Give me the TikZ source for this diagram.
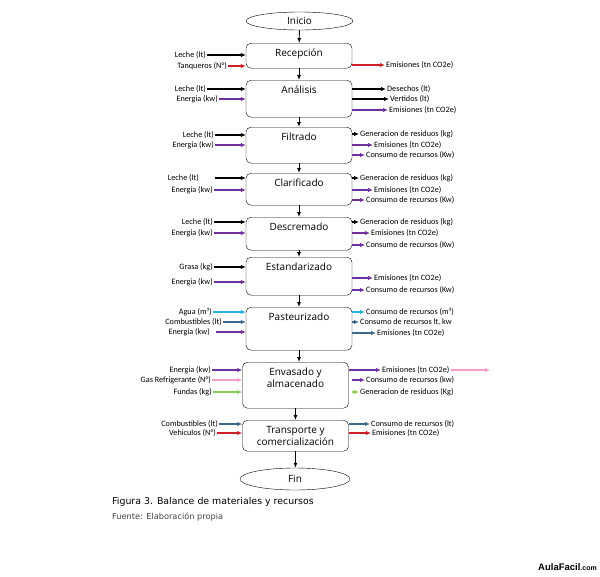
\documentclass[tikz,border=0pt]{standalone}
\usepackage{fontspec}
\usepackage{xcolor}
\usepackage{tikz}
\usetikzlibrary{positioning,shapes.geometric,arrows.meta}

\newfontfamily\labfont{Carlito}
\newfontfamily\capfont{DejaVu Sans}
\newfontfamily\boxfont{Open Sans}
\newfontfamily\markfont{Liberation Sans}

\definecolor{rojo}{RGB}{205,32,38}
\definecolor{morado}{RGB}{112,48,160}
\definecolor{celeste}{RGB}{38,178,222}
\definecolor{pizarra}{RGB}{62,104,138}
\definecolor{rosa}{RGB}{242,156,198}
\definecolor{verde}{RGB}{142,204,92}

\begin{document}
\begin{tikzpicture}[
  x=1pt, y=-1pt,
  proc/.style={draw, rounded corners=5pt, minimum width=106pt, inner sep=0pt,
               anchor=north, align=center, text height=13pt,
               font=\boxfont\fontsize{10}{12}\selectfont},
  term/.style={draw, ellipse, minimum width=107pt, minimum height=18pt, inner sep=0pt,
               font=\boxfont\fontsize{10}{12}\selectfont},
  inl/.style={anchor=east, inner sep=1pt, font=\labfont\fontsize{8.2}{9}\selectfont},
  outl/.style={anchor=west, inner sep=1pt, font=\labfont\fontsize{8.2}{9}\selectfont},
  flow/.style={-{Latex[length=5pt,width=4pt]}, line width=0.9pt},
  io/.style={-{Latex[length=5pt,width=4.5pt]}, line width=1.2pt, draw=#1}
]
  \useasboundingbox (0,0) rectangle (600,576);

  % Process boxes
  \node[term] (inicio) at (299.5,21) {Inicio};
  \node[proc, text depth=12pt] (recep) at (299,43) {Recepción};
  \node[proc, text depth=24pt] (anal) at (299,80) {Análisis};
  \node[proc, text depth=23pt] (filt) at (299,127) {Filtrado};
  \node[proc, text depth=19pt] (clar) at (299,173) {Clarificado};
  \node[proc, text depth=20pt] (desc) at (299,217) {Descremado};
  \node[proc, text depth=25pt] (estd) at (299,257) {Estandarizado};
  \node[proc, text depth=30pt] (past) at (299,307) {Pasteurizado};
  \node[proc, text height=25pt, text depth=21pt] (envas) at (295.5,362) {Envasado y\\almacenado};
  \node[proc, text height=25pt, text depth=6pt] (transp) at (295.5,420) {Transporte y\\comercialización};
  \node[term, minimum width=110pt, minimum height=22pt] (fin) at (295,479) {Fin};

  % Main flow
  \draw[flow] (inicio) -- (recep);
  \draw[flow] (recep) -- (anal);
  \draw[flow] (anal) -- (filt);
  \draw[flow] (filt) -- (clar);
  \draw[flow] (clar) -- (desc);
  \draw[flow] (desc) -- (estd);
  \draw[flow] (estd.south) -- (estd.south |- past.north);
  \draw[flow] (past.south) -- (past.south |- envas.north);
  \draw[flow] (envas) -- (transp);
  \draw[flow] (transp.south) -- (transp.south |- fin.north);

  % Recepcion
  \node[inl] (rec-i1) at (207,55) {Leche (lt)};
  \node[inl] (rec-i2) at (228,66) {Tanqueros (N°)};
  \node[outl] (rec-o1) at (385,65) {Emisiones (tn CO2e)};
  \draw[io=black] (rec-i1) -- (recep.west |- rec-i1);
  \draw[io=rojo] (rec-i2) -- (recep.west |- rec-i2);
  \draw[io=rojo] (recep.east |- rec-o1) -- (rec-o1);

  % Analisis
  \node[inl] (ana-i1) at (207,89) {Leche (lt)};
  \node[inl] (ana-i2) at (219,99) {Energia (kw)};
  \node[outl] (ana-o1) at (386,89) {Desechos (lt)};
  \node[outl] (ana-o2) at (389,99) {Vertidos (lt)};
  \node[outl] (ana-o3) at (388,110) {Emisiones (tn CO2e)};
  \draw[io=black] (ana-i1) -- (anal.west |- ana-i1);
  \draw[io=morado] (ana-i2) -- (anal.west |- ana-i2);
  \draw[io=black] (anal.east |- ana-o1) -- (ana-o1);
  \draw[io=black] (anal.east |- ana-o2) -- (ana-o2);
  \draw[io=morado] (anal.east |- ana-o3) -- (ana-o3);

  % Filtrado
  \node[inl] (fil-i1) at (215,135) {Leche (lt)};
  \node[inl] (fil-i2) at (215,145) {Energia (kw)};
  \node[outl] (fil-o1) at (359,134) {Generacion de residuos (kg)};
  \node[outl] (fil-o2) at (373,145) {Emisiones (tn CO2e)};
  \node[outl] (fil-o3) at (365,155) {Consumo de recursos (Kw)};
  \draw[io=black] (fil-i1) -- (filt.west |- fil-i1);
  \draw[io=morado] (fil-i2) -- (filt.west |- fil-i2);
  \draw[io=black] (filt.east |- fil-o1) -- (fil-o1);
  \draw[io=morado] (filt.east |- fil-o2) -- (fil-o2);
  \draw[io=morado] (filt.east |- fil-o3) -- (fil-o3);

  % Clarificado
  \node[inl] (cla-i1) at (200,178) {Leche (lt)};
  \node[inl] (cla-i2) at (214,190) {Energia (kw)};
  \node[outl] (cla-o1) at (359,178) {Generacion de residuos (kg)};
  \node[outl] (cla-o2) at (373,190) {Emisiones (tn CO2e)};
  \node[outl] (cla-o3) at (365,200) {Consumo de recursos (Kw)};
  \draw[io=black, shorten <=15pt] (cla-i1) -- (clar.west |- cla-i1);
  \draw[io=morado] (cla-i2) -- (clar.west |- cla-i2);
  \draw[io=black] (clar.east |- cla-o1) -- (cla-o1);
  \draw[io=morado] (clar.east |- cla-o2) -- (cla-o2);
  \draw[io=morado] (clar.east |- cla-o3) -- (cla-o3);

  % Descremado
  \node[inl] (des-i1) at (214,222) {Leche (lt)};
  \node[inl] (des-i2) at (214,233) {Energia (kw)};
  \node[outl] (des-o1) at (359,222) {Generacion de residuos (kg)};
  \node[outl] (des-o2) at (370,233) {Emisiones (tn CO2e)};
  \node[outl] (des-o3) at (365,245) {Consumo de recursos (Kw)};
  \draw[io=black] (des-i1) -- (desc.west |- des-i1);
  \draw[io=morado] (des-i2) -- (desc.west |- des-i2);
  \draw[io=black] (desc.east |- des-o1) -- (des-o1);
  \draw[io=morado] (desc.east |- des-o2) -- (des-o2);
  \draw[io=morado] (desc.east |- des-o3) -- (des-o3);

  % Estandarizado
  \node[inl] (est-i1) at (214,267) {Grasa (kg)};
  \node[inl] (est-i2) at (214,282) {Energia (kw)};
  \node[outl] (est-o1) at (373,278) {Emisiones (tn CO2e)};
  \node[outl] (est-o2) at (365,290) {Consumo de recursos (Kw)};
  \draw[io=black] (est-i1) -- (estd.west |- est-i1);
  \draw[io=morado] (est-i2) -- (estd.west |- est-i2);
  \draw[io=morado] (estd.east |- est-o1) -- (est-o1);
  \draw[io=morado] (estd.east |- est-o2) -- (est-o2);

  % Pasteurizado
  \node[inl] (pas-i1) at (213,312) {Agua (m³)};
  \node[inl] (pas-i2) at (223,322) {Combustibles (lt)};
  \node[inl] (pas-i3) at (211,332) {Energia (kw)};
  \node[outl] (pas-o1) at (365,312) {Consumo de recursos (m³)};
  \node[outl] (pas-o2) at (359,322) {Consumo de recursos lt, kw};
  \node[outl] (pas-o3) at (376,333) {Emisiones (tn CO2e)};
  \draw[io=celeste] (pas-i1) -- (past.west |- pas-i1);
  \draw[io=pizarra] (pas-i2) -- (past.west |- pas-i2);
  \draw[io=morado, shorten <=5pt] (pas-i3) -- (past.west |- pas-i3);
  \draw[io=celeste] (past.east |- pas-o1) -- (pas-o1);
  \draw[io=pizarra] (past.east |- pas-o2) -- (pas-o2);
  \draw[io=pizarra] (past.east |- pas-o3) -- (pas-o3);

  % Envasado y almacenado
  \node[inl] (env-i1) at (212,370) {Energia (kw)};
  \node[inl] (env-i2) at (212,380) {Gas Refrigerante (N°)};
  \node[inl] (env-i3) at (213,392) {Fundas (kg)};
  \node[outl] (env-o1) at (381,370) {Emisiones (tn CO2e)};
  \node[outl] (env-o2) at (365,380) {Consumo de recursos (kw)};
  \node[outl] (env-o3) at (359,392) {Generacion de residuos (Kg)};
  \coordinate (env-fin) at (490,370);
  \draw[io=morado] (env-i1) -- (envas.west |- env-i1);
  \draw[io=rosa] (env-i2) -- (envas.west |- env-i2);
  \draw[io=verde] (env-i3) -- (envas.west |- env-i3);
  \draw[io=morado] (envas.east |- env-o1) -- (env-o1);
  \draw[io=rosa] (env-o1) -- (env-fin);
  \draw[io=morado, shorten <=3pt] (envas.east |- env-o2) -- (env-o2);
  \draw[io=verde, shorten <=3pt] (envas.east |- env-o3) -- (env-o3);

  % Transporte y comercializacion
  \node[inl] (tra-i1) at (219,424) {Combustibles (lt)};
  \node[inl] (tra-i2) at (217,433) {Vehiculos (N°)};
  \node[outl] (tra-o1) at (370,424) {Consumo de recursos (lt)};
  \node[outl] (tra-o2) at (371,433) {Emisiones (tn CO2e)};
  \draw[io=pizarra] (tra-i1) -- (transp.west |- tra-i1);
  \draw[io=rojo] (tra-i2) -- (transp.west |- tra-i2);
  \draw[io=pizarra] (transp.east |- tra-o1) -- (tra-o1);
  \draw[io=rojo] (transp.east |- tra-o2) -- (tra-o2);

  % Caption
  \node[anchor=west, inner sep=0pt, font=\capfont\fontsize{9.4}{11}\selectfont] (titulo) at (112,502)
    {Figura 3. Balance de materiales y recursos};
  \node[anchor=west, inner sep=0pt, font=\capfont\fontsize{8.2}{10}\selectfont, text=black!75] (fuente) at (112,517)
    {Fuente: Elaboración propia};
  \node[anchor=east, inner sep=0pt, font=\markfont\bfseries\fontsize{9.5}{11}\selectfont] (marca) at (597,567)
    {AulaFacil{\fontsize{7}{9}\selectfont .com}};
\end{tikzpicture}
\end{document}
